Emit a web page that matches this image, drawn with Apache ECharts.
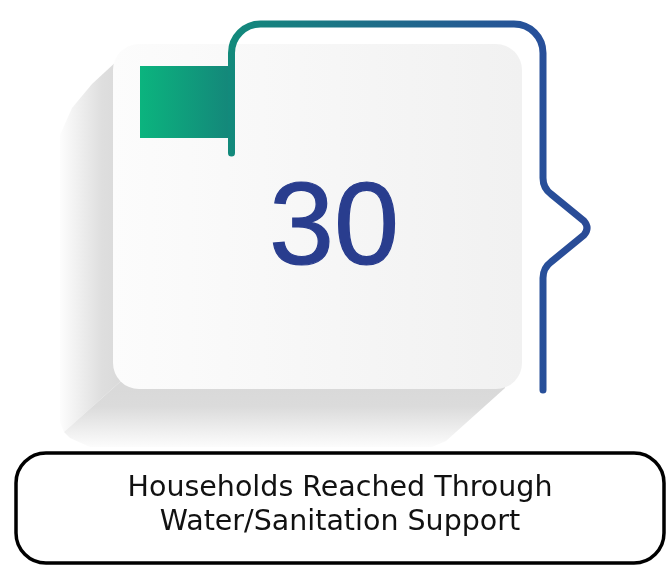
<!DOCTYPE html>
<html>
<head>
<meta charset="utf-8">
<script src="https://cdn.jsdelivr.net/npm/echarts@6/dist/echarts.min.js"></script>
<style>
  html, body { margin: 0; padding: 0; background: #fff; }
  #main { width: 669px; height: 566px; }
</style>
</head>
<body>
<div id="main"></div>
<script>
// headline figure and its caption
const metricValues = [30];
const captionLines = ['Households Reached Through', 'Water/Sanitation Support'];

const chart = echarts.init(document.getElementById('main'));

// bracket line around the card (teal -> blue)
const bracketPath =
  'M231.5,153 L231.5,53 A29,29 0 0 1 260.5,24 L514,24 A29,29 0 0 1 543,53 ' +
  'L543,178 Q543,188 551,194 L584,221 Q590,228 584,235 L551,262 Q543,268 543,278 L543,390';

const option = {
  backgroundColor: '#ffffff',
  animation: false,
  graphic: [
    // long shadow, left part (mitred with the bottom part)
    {
      type: 'polygon', z: 1,
      shape: { points: [[118, 60], [92, 84], [72, 108], [60, 135], [60, 422], [64, 432], [140, 364], [140, 60]] },
      style: {
        fill: new echarts.graphic.LinearGradient(0, 0, 60 / 80, 0, [
          { offset: 0, color: '#fdfdfd' },
          { offset: 0.7, color: '#dedede' },
          { offset: 1, color: '#dadada' }
        ])
      }
    },
    // long shadow, bottom part
    {
      type: 'polygon', z: 2,
      shape: { points: [[140, 364], [505, 364], [505, 388], [446, 441], [432, 447], [90, 447], [70, 438], [64, 432]] },
      style: {
        fill: new echarts.graphic.LinearGradient(0, 25 / 83, 0, 1, [
          { offset: 0, color: '#d9d9d9' },
          { offset: 0.3, color: '#dbdbdb' },
          { offset: 1, color: '#fcfcfc' }
        ])
      }
    },
    // card
    {
      type: 'rect', z: 3,
      shape: { x: 113, y: 44, width: 409, height: 345, r: 26 },
      style: {
        fill: new echarts.graphic.LinearGradient(0, 0, 1, 0, [
          { offset: 0, color: '#fcfcfc' },
          { offset: 1, color: '#f1f1f1' }
        ])
      }
    },
    // green tab
    {
      type: 'rect', z: 4,
      shape: { x: 140, y: 66, width: 90, height: 72 },
      style: {
        fill: new echarts.graphic.LinearGradient(0, 0, 1, 0, [
          { offset: 0, color: '#0bb47e' },
          { offset: 1, color: '#14877a' }
        ])
      }
    },
    // value
    {
      type: 'text', z: 6,
      x: 334, y: 232,
      style: {
        text: String(metricValues[0]),
        font: 'normal 117px "Liberation Sans", Arial, sans-serif',
        fill: '#293d8e',
        stroke: '#293d8e',
        lineWidth: 1.2,
        textAlign: 'center',
        textVerticalAlign: 'middle'
      }
    },
    // caption box
    {
      type: 'rect', z: 5,
      shape: { x: 16, y: 453, width: 648, height: 110, r: 30 },
      style: { fill: '#ffffff', stroke: '#000000', lineWidth: 3.5 }
    },
    {
      type: 'text', z: 6,
      x: 340, y: 489,
      style: {
        text: captionLines[0],
        font: 'normal 28.5px "DejaVu Sans", sans-serif',
        fill: '#111111',
        textAlign: 'center',
        textVerticalAlign: 'middle'
      }
    },
    {
      type: 'text', z: 6,
      x: 340, y: 523,
      style: {
        text: captionLines[1],
        font: 'normal 28.5px "DejaVu Sans", sans-serif',
        fill: '#111111',
        textAlign: 'center',
        textVerticalAlign: 'middle'
      }
    }
  ],
  series: [
    {
      type: 'custom',
      coordinateSystem: 'none',
      z: 10,
      data: [0],
      renderItem: function () {
        return {
          type: 'path',
          shape: { pathData: bracketPath },
          style: {
            fill: 'none',
            stroke: new echarts.graphic.LinearGradient(0, 0, 1, 0, [
              { offset: 0, color: '#128a7b' },
              { offset: 0.45, color: '#1f6a8a' },
              { offset: 0.85, color: '#27509a' },
              { offset: 1, color: '#2a4a96' }
            ]),
            lineWidth: 7,
            lineCap: 'round',
            lineJoin: 'round'
          }
        };
      }
    }
  ]
};

chart.setOption(option);
</script>
</body>
</html>
